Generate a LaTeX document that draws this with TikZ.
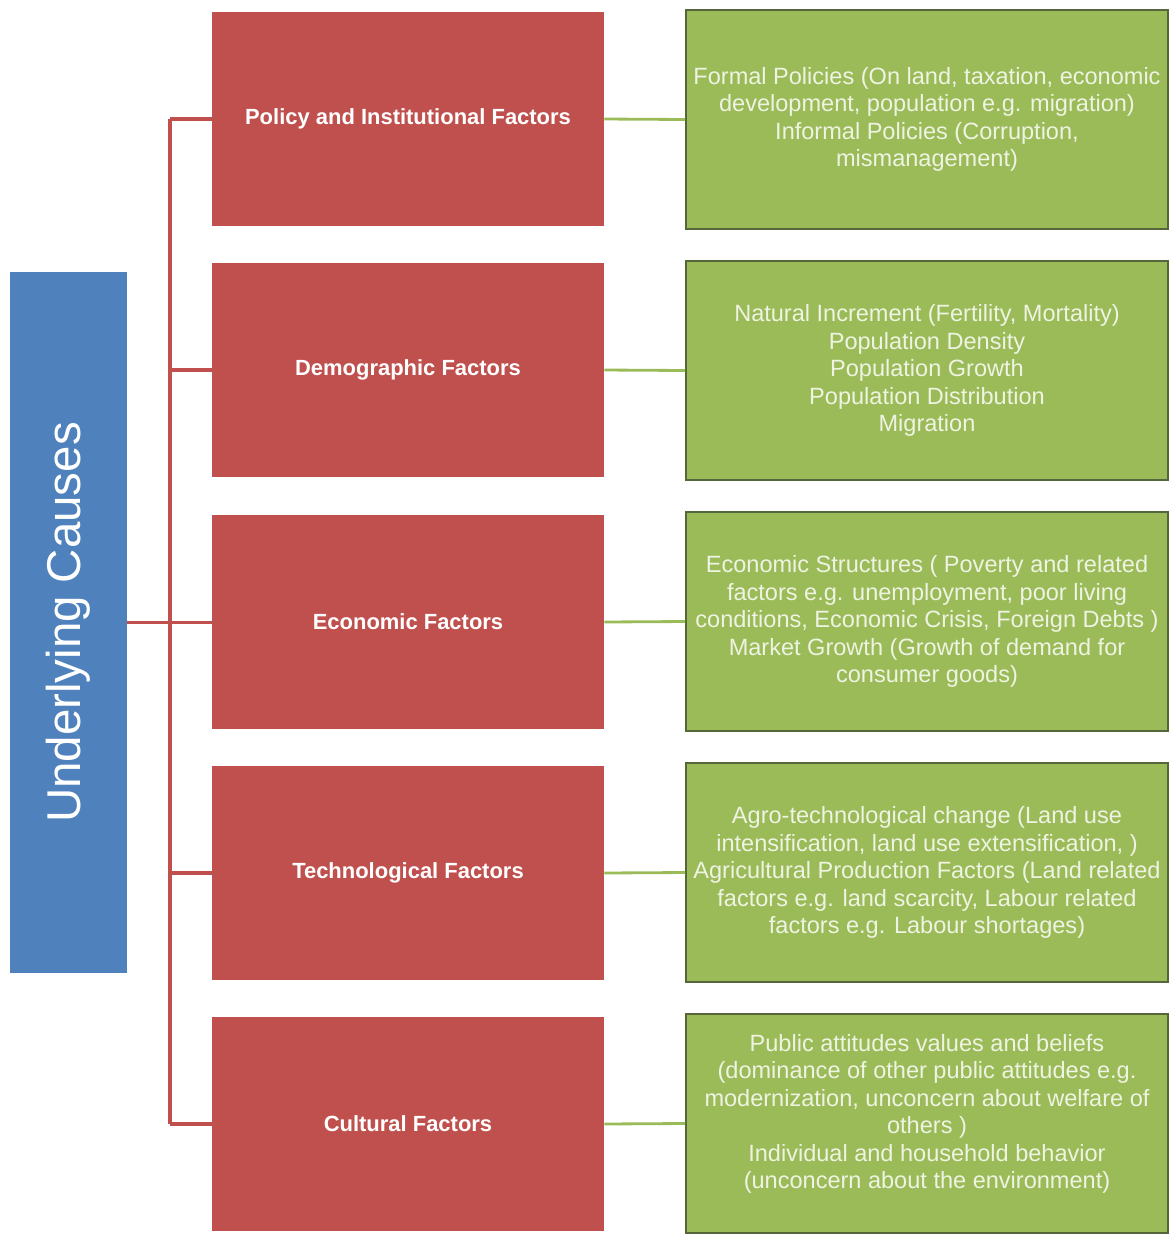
\documentclass[tikz,border=0pt]{standalone}
\usepackage{fontspec}
\setmainfont{Liberation Sans}
\definecolor{causeblue}{HTML}{4F81BD}
\definecolor{factorred}{HTML}{C0504D}
\definecolor{detailgreen}{HTML}{9BBB59}
\definecolor{detailedge}{HTML}{55663A}
\definecolor{detailtext}{HTML}{EEF3E2}

\begin{document}
\begin{tikzpicture}[x=0.02cm, y=-0.02cm,
  factor/.style={fill=factorred, text=white, font=\bfseries\fontsize{12.5}{15}\selectfont,
    minimum width=7.84cm, minimum height=4.28cm, inner sep=0pt},
  detail/.style={fill=detailgreen, draw=detailedge, line width=1.1pt, text=detailtext,
    font=\fontsize{13.4}{15.6}\selectfont, align=center,
    minimum width=9.64cm, minimum height=4.38cm, inner sep=0pt},
  redline/.style={draw=factorred, line width=2pt},
  greenline/.style={draw=detailgreen, line width=1.6pt}]
  \useasboundingbox (0,0) rectangle (1171,1235);

  % Main cause box
  \node[fill=causeblue, text=white, font=\fontsize{27}{30}\selectfont,
    minimum width=2.34cm, minimum height=14.02cm, inner sep=0pt]
    (causes) at (68.5,622.5) {\rotatebox{90}{Underlying Causes}};

  % Factor boxes
  \node[factor] (factor1) at (408,119) {Policy and Institutional Factors};
  \node[factor] (factor2) at (408,370) {Demographic Factors};
  \node[factor] (factor3) at (408,622) {Economic Factors};
  \node[factor] (factor4) at (408,873) {Technological Factors};
  \node[factor] (factor5) at (408,1124) {Cultural Factors};

  % Detail boxes
  \node[detail] (detail1) at (927,119.5) {Formal Policies (On land, taxation, economic\\
    development, population e.g. migration)\\ Informal Policies (Corruption,\\ mismanagement)};
  \node[detail] (detail2) at (927,370.5) {Natural Increment (Fertility, Mortality)\\
    Population Density\\ Population Growth\\ Population Distribution\\ Migration};
  \node[detail] (detail3) at (927,621.5) {Economic Structures ( Poverty and related\\
    factors e.g. unemployment, poor living\\ conditions, Economic Crisis, Foreign Debts )\\
    Market Growth (Growth of demand for\\ consumer goods)};
  \node[detail] (detail4) at (927,872.5) {Agro-technological change (Land use\\
    intensification, land use extensification, )\\ Agricultural Production Factors (Land related\\
    factors e.g. land scarcity, Labour related\\ factors e.g. Labour shortages)};
  \node[detail] (detail5) at (927,1123.5) {Public attitudes values and beliefs\\
    (dominance of other public attitudes e.g.\\ modernization, unconcern about welfare of\\
    others )\\ Individual and household behavior\\ (unconcern about the environment)\\[-2pt]};

  % Tree connectors
  \coordinate (trunk) at (170,0);
  \draw[redline] (causes.east) -- (causes.east -| factor3.west);
  \draw[redline] (factor1.west -| trunk) -- (factor5.west -| trunk);
  \draw[redline] (factor1.west -| trunk) -- (factor1.west);
  \draw[redline] (factor2.west -| trunk) -- (factor2.west);
  \draw[redline] (factor4.west -| trunk) -- (factor4.west);
  \draw[redline] (factor5.west -| trunk) -- (factor5.west);

  % Factor to detail links
  \draw[greenline] (factor1.east) -- (detail1.west);
  \draw[greenline] (factor2.east) -- (detail2.west);
  \draw[greenline] (factor3.east) -- (detail3.west);
  \draw[greenline] (factor4.east) -- (detail4.west);
  \draw[greenline] (factor5.east) -- (detail5.west);
\end{tikzpicture}
\end{document}
